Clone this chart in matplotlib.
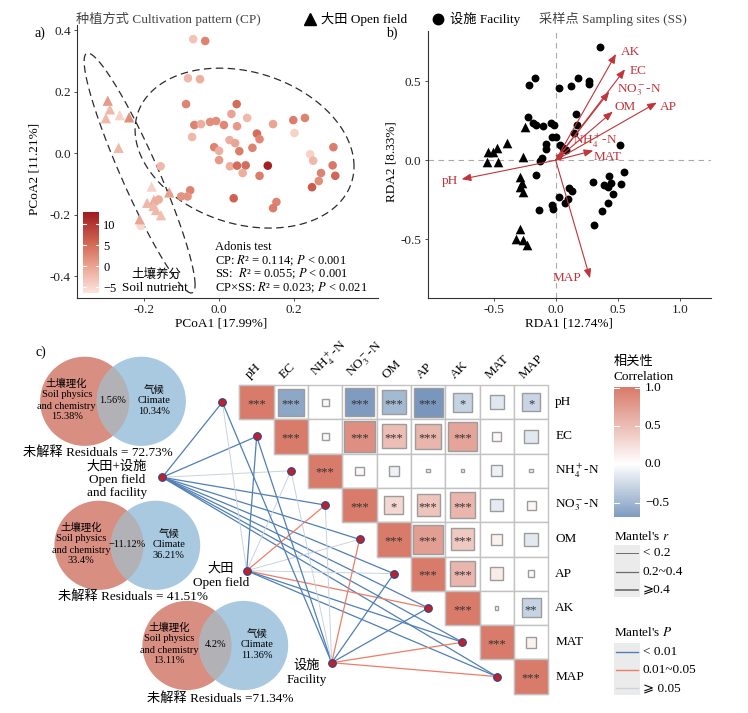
import numpy as np
import matplotlib

matplotlib.use("Agg")
import matplotlib.pyplot as plt
from matplotlib.colors import LinearSegmentedColormap, Normalize
from matplotlib.patches import Circle, Rectangle

W, H = 748, 713

# ---------------- panel a: PCoA (soil nutrient index as colour) ----------------
pcoa_fac_x = [-0.069, -0.037, -0.083, -0.051, -0.088, 0.047, 0.033, 0.075, -0.066, -0.048,
              -0.024, -0.008, 0.013, 0.048, -0.072, 0.101, 0.108, 0.144, 0.198, 0.229,
              0.201, 0.028, 0.043, -0.013, 0.000, 0.054, 0.089, 0.305, 0.243, 0.251,
              0.000, 0.029, 0.048, 0.071, 0.130, 0.063, 0.108, 0.303, 0.310, 0.272,
              0.266, 0.248, 0.039, 0.153, 0.144, -0.156, -0.077, -0.084, -0.101, -0.161,
              -0.209]
pcoa_fac_y = [0.371, 0.365, 0.244, 0.241, 0.160, 0.160, 0.128, 0.115, 0.092, 0.095,
              0.102, 0.105, 0.092, 0.088, 0.053, 0.064, 0.046, 0.095, 0.108, 0.115,
              0.066, 0.043, 0.033, 0.020, 0.008, 0.007, 0.018, 0.020, -0.003, -0.024,
              -0.022, -0.042, -0.040, -0.039, -0.040, -0.064, -0.073, -0.039, -0.073, -0.064,
              -0.090, -0.110, -0.146, -0.158, -0.178, -0.042, -0.120, -0.140, -0.140, -0.150,
              -0.236]
pcoa_fac_nut = [-3, 3, -2, -1, 3, 5, 0, -2, 3, -1,
                2, 2, 2.5, 1, -2, 5, 2.5, 0, 3.5, 3,
                -4.5, -1, 0, 3, -1, 3.5, 3, 3.5, -4.5, -2,
                1, -1, 5, 5, 12.5, -1, 3.5, 4, 5.5, 3,
                2, 6.5, 6, 3, 3.5, -2, 3, 1.5, 1.5, -1,
                -5]
pcoa_open_x = [-0.297, -0.291, -0.302, -0.265, -0.240, -0.268, -0.180, -0.133, -0.192, -0.174,
               -0.175, -0.168, -0.155, -0.212]
pcoa_open_y = [0.171, 0.143, 0.114, 0.124, 0.117, 0.018, -0.108, -0.127, -0.161, -0.152,
               -0.171, -0.184, -0.201, -0.214]
pcoa_open_nut = [1, -2, -2, -4.5, 2, -2, -4.5, 0.5, -2, -1, -2, -2, -2.5, 0]
nut_ticks = [-5, 0, 5, 10]

# 95% ellipses: centre and shape matrix (data units)
ell_fac_center = [0.068, 0.017]
ell_fac_shape = [[0.0853, -0.0173], [-0.0173, 0.0675]]
ell_open_center = [-0.212, -0.064]
ell_open_shape = [[0.0219, -0.0537], [-0.0537, 0.1518]]

adonis_lines = ["Adonis test",
                "CP: $R$\u00b2 = 0.114; $P$ < 0.001",
                "SS:  $R$\u00b2 = 0.055; $P$ < 0.001",
                "CP×SS: $R$\u00b2 = 0.023; $P$ < 0.021"]

# ---------------- panel b: RDA ----------------
rda_fac_x = [0.357, -0.215, -0.167, 0.027, 0.123, 0.177, 0.271, 0.269, -0.221, -0.181,
             -0.161, -0.100, -0.038, 0.164, 0.169, 0.150, -0.027, 0.000, -0.081, -0.081,
             0.035, 0.081, -0.108, -0.127, 0.519, 0.551, -0.161, 0.303, 0.392, 0.432,
             0.446, 0.419, 0.524, 0.460, 0.424, 0.371, 0.309, 0.107, 0.129, 0.027,
             0.102, 0.075, -0.027, -0.019, -0.135, -0.011, 0.060]
rda_fac_y = [0.719, 0.477, 0.519, 0.456, 0.470, 0.523, 0.502, 0.481, 0.276, 0.238,
             0.223, 0.217, 0.238, 0.291, 0.223, 0.175, 0.149, 0.146, 0.101, 0.072,
             0.097, 0.065, 0.013, -0.002, 0.097, -0.072, -0.093, -0.139, -0.156, -0.099,
             -0.146, -0.167, -0.152, -0.215, -0.272, -0.319, -0.409, -0.173, -0.194, -0.230,
             -0.247, -0.268, -0.283, -0.310, -0.315, 0.223, 0.080]
rda_open_x = [-0.395, -0.476, -0.543, -0.503, -0.551, -0.468, -0.248, -0.261, -0.288, -0.274,
              -0.288, -0.266, -0.288, -0.323, -0.266, -0.234]
rda_open_y = [0.108, 0.076, 0.051, 0.055, -0.009, -0.009, 0.213, 0.023, -0.104, -0.145,
              -0.167, -0.199, -0.437, -0.500, -0.505, -0.536]
rda_env = ["AK", "EC", r"NO$_3^-$-N", "OM", "AP", r"NH$_4^+$-N", "MAT", "pH", "MAP"]
rda_env_x = [0.486, 0.559, 0.432, 0.460, 0.815, 0.075, 0.303, -0.758, 0.277]
rda_env_y = [0.673, 0.576, 0.434, 0.308, 0.365, 0.055, 0.061, -0.120, -0.747]
rda_lab_dx = [0.038, 0.040, 0.060, 0.018, 0.026, 0.067, 0.000, -0.027, -0.073]
rda_lab_dy = [0.014, -0.009, 0.011, 0.027, -0.026, 0.069, -0.038, -0.011, 0.000]
rda_lab_ha = ["left"] * 7 + ["right", "right"]

# ---------------- panel c: VPA, Mantel test and correlation matrix ----------------
venn_soil = ["15.38%", "33.4%", "13.11%"]
venn_climate = ["10.34%", "36.21%", "11.36%"]
venn_shared = ["1.56%", "\u221211.12%", "4.2%"]
venn_resid = ["未解释 Residuals = 72.73%", "未解释 Residuals = 41.51%", "未解释 Residuals =71.34%"]

env_labels = ["pH", "EC", r"NH$_4^+$-N", r"NO$_3^-$-N", "OM", "AP", "AK", "MAT", "MAP"]
corr_upper = [
    [1.00, -0.61, 0.04, -0.69, -0.49, -0.72, -0.31, -0.17, -0.29],
    [1.00, 0.04, 0.85, 0.49, 0.55, 0.68, 0.07, -0.16],
    [1.00, 0.06, -0.09, 0.01, 0.01, -0.10, 0.01],
    [1.00, 0.30, 0.44, 0.56, -0.14, 0.07],
    [1.00, 0.73, 0.42, 0.10, -0.15],
    [1.00, 0.56, 0.15, 0.04],
    [1.00, 0.01, -0.31],
    [1.00, 0.10],
    [1.00],
]
stars_upper = [
    ["***", "***", "", "***", "***", "***", "*", "", "*"],
    ["***", "", "***", "***", "***", "***", "", ""],
    ["***", "", "", "", "", "", ""],
    ["***", "*", "***", "***", "", ""],
    ["***", "***", "***", "", ""],
    ["***", "***", "", ""],
    ["***", "", "**"],
    ["***", ""],
    ["***"],
]

mantel_groups = [["大田+设施", "Open field", "and facility"], ["大田", "Open field"], ["设施", "Facility"]]
mantel_p = [
    ["a", "a", "c", "a", "a", "a", "a", "a", "a"],
    ["c", "a", "c", "b", "c", "c", "b", "a", "a"],
    ["a", "a", "c", "c", "b", "a", "a", "b", "b"],
]
mantel_r = [
    ["m", "m", "s", "m", "m", "m", "m", "m", "m"],
    ["s", "m", "s", "m", "s", "s", "m", "m", "m"],
    ["m", "m", "s", "s", "m", "m", "m", "m", "m"],
]
p_colors = {"a": "#4f7fb6", "b": "#ee7d66", "c": "#c9d3dd"}
p_labels = {"a": "< 0.01", "b": "0.01~0.05", "c": "\u2a7e 0.05"}
r_widths = {"s": 0.7, "m": 0.9, "l": 1.2}
r_labels = {"s": "< 0.2", "m": "0.2~0.4", "l": "\u2a7e0.4"}

RED = "#c1343a"


def dashed_ellipse(ax, center, shape):
    t = np.linspace(0, 2 * np.pi, 240)
    chol = np.linalg.cholesky(np.array(shape))
    pts = np.array(center)[:, None] + chol @ np.vstack([np.cos(t), np.sin(t)])
    ax.plot(pts[0], pts[1], color="#2b2b2b", lw=0.9, dashes=(6, 3.5), zorder=1)


def style_axes(ax):
    for side in ("top", "right"):
        ax.spines[side].set_visible(False)
    for side in ("left", "bottom"):
        ax.spines[side].set_color("#333333")
        ax.spines[side].set_linewidth(0.8)
    ax.tick_params(direction="out", length=2.5, width=0.6, color="#333333",
                   labelsize=9.5, labelcolor="#222222", pad=2)
    ax.set_facecolor("none")


def main():
    plt.rcParams["font.family"] = ["Liberation Serif", "Noto Sans CJK SC", "DejaVu Sans"]
    plt.rcParams["mathtext.fontset"] = "stix"
    plt.rcParams["font.size"] = 9.5

    fig = plt.figure(figsize=(W / 100, H / 100), dpi=100)

    # full-figure pixel canvas for panel c and free text
    cv = fig.add_axes([0, 0, 1, 1])
    cv.set_xlim(0, W)
    cv.set_ylim(H, 0)
    cv.axis("off")

    # ---- top legend row ----
    cv.text(76, 19, "种植方式 Cultivation pattern (CP)", color="#444444", va="center", fontsize=9.5)
    cv.plot([310], [19], marker="^", ms=8, color="black", ls="none")
    cv.text(321, 19, "大田 Open field", va="center", fontsize=9.5)
    cv.plot([438], [19], marker="o", ms=7.5, color="black", ls="none")
    cv.text(450, 19, "设施 Facility", va="center", fontsize=9.5)
    cv.text(539, 19, "采样点 Sampling sites (SS)", color="#444444", va="center", fontsize=9.5)
    cv.text(40, 33, "a)", ha="center", va="center", fontsize=10)
    cv.text(392, 33, "b)", ha="center", va="center", fontsize=10)
    cv.text(41, 352, "c)", ha="center", va="center", fontsize=10)

    # ---- panel a ----
    nut_cmap = LinearSegmentedColormap.from_list(
        "nut", [(0, "#fde5dc"), (0.35, "#e9a08e"), (0.6, "#d46a57"), (1, "#a01b1f")])
    nut_norm = Normalize(-6.4, 12.9)
    ax = fig.add_axes([77 / W, 1 - 298 / H, 301 / W, 273 / H])
    style_axes(ax)
    dashed_ellipse(ax, ell_fac_center, ell_fac_shape)
    dashed_ellipse(ax, ell_open_center, ell_open_shape)
    ax.scatter(pcoa_fac_x, pcoa_fac_y, c=pcoa_fac_nut, cmap=nut_cmap, norm=nut_norm,
               s=38, marker="o", linewidths=0, zorder=3)
    ax.scatter(pcoa_open_x, pcoa_open_y, c=pcoa_open_nut, cmap=nut_cmap, norm=nut_norm,
               s=55, marker="^", linewidths=0, zorder=3)
    ax.set_xlim(-0.379, 0.424)
    ax.set_ylim(-0.47, 0.417)
    ax.set_xticks([-0.2, 0.0, 0.2])
    ax.set_yticks([-0.4, -0.2, 0.0, 0.2, 0.4])
    ax.xaxis.set_major_formatter(matplotlib.ticker.FormatStrFormatter("%.1f"))
    ax.yaxis.set_major_formatter(matplotlib.ticker.FormatStrFormatter("%.1f"))
    cv.text(221, 324, "PCoA1 [17.99%]", ha="center", va="center")
    cv.text(35, 169, "PCoA2 [11.21%]", ha="center", va="center", rotation=90)
    for k, line in enumerate(adonis_lines):
        cv.text(215, 247.5 + 13.3 * k, line, va="center", fontsize=9)

    cax = fig.add_axes([83 / W, 1 - 293 / H, 16 / W, 81 / H])
    grad = np.linspace(nut_norm.vmin, nut_norm.vmax, 256)[:, None]
    cax.imshow(grad, extent=[0, 1, nut_norm.vmin, nut_norm.vmax], origin="lower",
               aspect="auto", cmap=nut_cmap, norm=nut_norm)
    for v in nut_ticks:
        cax.plot([0, 0.2], [v, v], color="white", lw=0.8)
        cax.plot([0.8, 1], [v, v], color="white", lw=0.8)
    cax.set_xlim(0, 1)
    cax.set_ylim(nut_norm.vmin, nut_norm.vmax)
    cax.set_xticks([])
    cax.yaxis.tick_right()
    cax.set_yticks(nut_ticks)
    cax.tick_params(length=0, labelsize=9, pad=3)
    for s in cax.spines.values():
        s.set_visible(False)
    cv.text(156, 275, "土壤养分", ha="center", va="center", fontsize=9)
    cv.text(155, 288, "Soil nutrient", ha="center", va="center", fontsize=9.5)

    # ---- panel b ----
    bx = fig.add_axes([427.7 / W, 1 - 297.7 / H, 283.3 / W, 267 / H])
    style_axes(bx)
    bx.axhline(0, color="#aaaaaa", lw=0.8, dashes=(5, 4), zorder=0)
    bx.axvline(0, color="#aaaaaa", lw=0.8, dashes=(5, 4), zorder=0)
    bx.scatter(rda_fac_x, rda_fac_y, s=32, marker="o", color="black", linewidths=0, zorder=2)
    bx.scatter(rda_open_x, rda_open_y, s=48, marker="^", color="black", linewidths=0, zorder=2)
    for lab, x, y, dx, dy, ha in zip(rda_env, rda_env_x, rda_env_y, rda_lab_dx, rda_lab_dy, rda_lab_ha):
        bx.annotate("", xy=(x, y), xytext=(0, 0),
                    arrowprops=dict(arrowstyle="-|>,head_length=0.55,head_width=0.22",
                                    color=RED, lw=0.8, shrinkA=0, shrinkB=0, mutation_scale=10),
                    zorder=3)
        bx.text(x + dx, y + dy, lab, color=RED, ha=ha, va="center", fontsize=9.5, zorder=4)
    bx.set_xlim(-1.032, 1.252)
    bx.set_ylim(-0.87, 0.82)
    bx.set_xticks([-0.5, 0.0, 0.5, 1.0])
    bx.set_yticks([-0.5, 0.0, 0.5])
    bx.xaxis.set_major_formatter(matplotlib.ticker.FormatStrFormatter("%.1f"))
    bx.yaxis.set_major_formatter(matplotlib.ticker.FormatStrFormatter("%.1f"))
    cv.text(569, 324, "RDA1 [12.74%]", ha="center", va="center")
    cv.text(392, 162, "RDA2 [8.33%]", ha="center", va="center", rotation=90)

    # ---- panel c: variation partitioning ----
    rad, gap = 44.6, 56.6
    venn_left = [(84.7, 401.3), (99.0, 545.3), (187.0, 645.5)]
    venn_resid_pos = [(98, 453), (133, 597), (220, 699)]
    for k, (cx, cy) in enumerate(venn_left):
        cv.add_patch(Circle((cx, cy), rad, fc="#d98e82", ec="none", zorder=1))
        cv.add_patch(Circle((cx + gap, cy), rad, fc="#a9c9e0", ec="none", zorder=1))
        ov = Circle((cx + gap, cy), rad, fc="#b2b1b6", ec="none", zorder=1.1)
        cv.add_patch(ov)
        ov.set_clip_path(Circle((cx, cy), rad, transform=cv.transData))
        for line, dy in zip(["土壤理化", "Soil physics", "and chemistry", venn_soil[k]],
                            [-17.5, -6.8, 5.0, 15.4]):
            cv.text(cx - 18, cy + dy, line, ha="center", va="center", fontsize=7.5, zorder=2)
        for line, dy in zip(["气候", "Climate", venn_climate[k]], [-11.3, -0.6, 10.4]):
            cv.text(cx + gap + 13, cy + dy, line, ha="center", va="center", fontsize=7.5, zorder=2)
        cv.text(cx + gap / 2, cy - 1, venn_shared[k], ha="center", va="center", fontsize=7.5, zorder=2)
        cv.text(*venn_resid_pos[k], venn_resid[k], ha="center", va="center", fontsize=9.5)

    # ---- panel c: correlation matrix ----
    corr_cmap = LinearSegmentedColormap.from_list("corr", ["#4670a4", "#ffffff", "#d87b6b"])
    corr_norm = Normalize(-1, 1)
    cell, gx0, gy0 = 34.3, 239.5, 385.0
    n = len(env_labels)
    for i in range(n):
        for j in range(i, n):
            x0, y0 = gx0 + j * cell, gy0 + i * cell
            r = corr_upper[i][j - i]
            cv.add_patch(Rectangle((x0, y0), cell, cell, fc="white", ec="#c2c2c2", lw=1.0, zorder=2))
            side = cell if i == j else np.sqrt(abs(r)) * cell
            cv.add_patch(Rectangle((x0 + (cell - side) / 2, y0 + (cell - side) / 2), side, side,
                                   fc=corr_cmap(corr_norm(r)),
                                   ec="#c2c2c2" if i == j else "#9c9c9c", lw=1.0, zorder=3))
            st = stars_upper[i][j - i]
            if st:
                cv.text(x0 + cell / 2, y0 + cell / 2 + 2, st, ha="center", va="center",
                        fontsize=9, color="#333333", zorder=4)
    for k, lab in enumerate(env_labels):
        cv.text(gx0 + (k + 0.5) * cell - 5, gy0 - 4, lab, rotation=45, rotation_mode="anchor",
                ha="left", va="bottom", fontsize=9.5)
        cv.text(gx0 + n * cell + 7, gy0 + (k + 0.5) * cell, lab, ha="left", va="center", fontsize=9.5)

    # ---- panel c: Mantel network ----
    src_pos = [(162.3, 477.3), (246.7, 570.7), (331.7, 662.7)]
    src_lab = [((116.7, 466.7), 13.3), ((221.0, 568.3), 15.0), ((306.7, 665.0), 15.0)]
    node_x = [gx0 + (k - 0.5) * cell for k in range(n)]
    node_y = [gy0 + (k + 0.5) * cell for k in range(n)]
    for g, (sx, sy) in enumerate(src_pos):
        for k in range(n):
            cv.plot([sx, node_x[k]], [sy, node_y[k]], color=p_colors[mantel_p[g][k]],
                    lw=r_widths[mantel_r[g][k]], zorder=1.5, solid_capstyle="butt")
    for g, (sx, sy) in enumerate(src_pos):
        cv.plot([sx], [sy], marker="o", ms=5.5, mfc="#c1202b", mec="#27488a", mew=0.8, zorder=5)
        (lx, ly), step = src_lab[g]
        for m, line in enumerate(mantel_groups[g]):
            cv.text(lx, ly + m * step, line, ha="center", va="center", fontsize=9.5, zorder=5)
    cv.plot(node_x, node_y, marker="o", ms=5.5, mfc="#c1202b", mec="#27488a", mew=0.8,
            ls="none", zorder=5)

    # ---- panel c: legends ----
    cv.text(614, 362, "相关性", ha="left", va="center", fontsize=9.5)
    cv.text(614, 377, "Correlation", ha="left", va="center", fontsize=9.5)
    cb_lo, cb_hi, cb_top, cb_bot = -0.69, 1.0, 387.7, 517.3
    grad = np.linspace(cb_lo, cb_hi, 256)[:, None]
    cv.imshow(grad, extent=[614.3, 640, cb_bot, cb_top], origin="lower", aspect="auto",
              cmap=corr_cmap, norm=corr_norm, zorder=2)
    for v in [1.0, 0.5, 0.0, -0.5]:
        yy = cb_top + (cb_hi - v) * (cb_bot - cb_top) / (cb_hi - cb_lo)
        cv.plot([614.3, 619], [yy, yy], color="white", lw=0.8, zorder=3)
        cv.plot([635.3, 640], [yy, yy], color="white", lw=0.8, zorder=3)
        cv.text(645, yy, f"{v:.1f}".replace("-", "\u2212"), ha="left", va="center", fontsize=9.5)

    cv.text(614, 537, "Mantel's $r$", ha="left", va="center", fontsize=9.5)
    cv.add_patch(Rectangle((614, 545), 26, 52, fc="#ebebeb", ec="none", zorder=2))
    for k, key in enumerate(["s", "m", "l"]):
        yy = 553.3 + k * 18.3
        cv.plot([616, 638], [yy, yy], color="#6b6b6b", lw=r_widths[key], zorder=3)
        cv.text(643, yy, r_labels[key], ha="left", va="center", fontsize=9.5)
    cv.text(614, 633, "Mantel's $P$", ha="left", va="center", fontsize=9.5)
    cv.add_patch(Rectangle((614, 642.7), 26, 52.3, fc="#ebebeb", ec="none", zorder=2))
    for k, key in enumerate(["a", "b", "c"]):
        yy = 651.7 + k * 18.3
        cv.plot([616, 638], [yy, yy], color=p_colors[key], lw=1.0, zorder=3)
        cv.text(643, yy, p_labels[key], ha="left", va="center", fontsize=9.5)

    cv.set_xlim(0, W)
    cv.set_ylim(H, 0)
    fig.savefig("out.png", dpi=100)


if __name__ == "__main__":
    main()
